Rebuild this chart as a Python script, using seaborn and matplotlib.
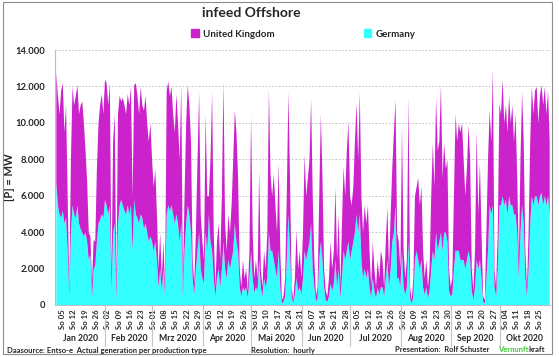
import numpy as np
import pandas as pd
import matplotlib
matplotlib.use("Agg")
import matplotlib.pyplot as plt
import seaborn as sns
from matplotlib.patches import Patch, Rectangle
from matplotlib.ticker import FuncFormatter

# daily offshore infeed in GW, 1 Jan - 31 Oct 2020
de_gw = [
    # Jan
    6.7, 5.5, 5.0, 4.8, 5.2, 4.5, 4.8, 3.0, 0.5, 4.0, 5.5, 5.0, 4.8, 5.5, 4.5, 4.2,
    4.0, 3.8, 4.0, 3.5, 2.5, 2.8, 0.4, 2.0, 2.2, 3.5, 4.5, 4.7, 5.0, 4.8, 5.8,
    # Feb
    5.5, 5.0, 5.5, 0.8, 4.0, 4.5, 0.3, 4.5, 5.5, 5.8, 5.5, 5.2, 5.0, 5.5, 5.0,
    5.5, 3.0, 5.8, 5.0, 4.8, 4.5, 5.0, 4.8, 4.2, 4.5, 4.0, 3.5, 3.8, 3.5,
    # Mar
    3.0, 3.5, 2.5, 1.0, 2.0, 0.8, 2.0, 0.5, 5.0, 5.5, 5.2, 5.5, 5.0, 4.5, 5.0, 4.5,
    3.5, 4.5, 0.5, 3.0, 4.5, 5.5, 5.0, 4.0, 1.5, 0.6, 2.0, 3.0, 4.0, 2.0, 1.5,
    # Apr
    1.2, 4.0, 3.0, 5.0, 3.5, 3.0, 1.5, 0.5, 1.5, 2.0, 1.0, 2.0, 3.5, 2.0, 1.5,
    2.5, 2.0, 2.5, 3.0, 4.5, 3.5, 3.0, 1.0, 0.5, 1.0, 0.8, 1.0, 0.4, 1.5, 3.0,
    # May
    1.5, 0.7, 1.0, 0.8, 2.5, 1.0, 0.5, 1.5, 1.0, 1.5, 4.0, 3.0, 3.0, 2.5, 2.0, 1.5,
    3.0, 1.0, 0.1, 0.2, 0.5, 2.5, 5.0, 3.0, 0.5, 0.1, 0.6, 1.5, 0.8, 1.0, 0.6,
    # Jun
    1.5, 3.0, 2.5, 3.0, 3.5, 4.5, 2.0, 1.0, 0.2, 0.4, 2.5, 3.5, 2.5, 1.0, 0.3,
    0.2, 0.5, 1.2, 0.8, 1.2, 2.5, 1.0, 2.0, 0.4, 1.5, 3.0, 2.5, 3.0, 3.5, 2.5,
    # Jul
    3.0, 3.5, 4.0, 5.0, 4.0, 5.0, 2.5, 1.5, 2.0, 1.5, 2.0, 1.0, 0.4, 1.5, 0.8, 0.4,
    1.0, 0.6, 1.0, 1.0, 0.5, 1.5, 2.5, 1.0, 2.0, 3.5, 4.0, 5.5, 1.5, 1.5, 1.0,
    # Aug
    3.0, 1.0, 0.6, 1.0, 3.5, 0.4, 0.1, 0.5, 2.5, 3.0, 2.5, 2.0, 2.5, 1.0, 0.6, 1.0,
    0.4, 0.8, 2.0, 3.0, 2.5, 4.0, 3.0, 3.5, 4.0, 3.0, 4.0, 4.0, 3.5, 0.8, 0.5,
    # Sep
    0.6, 2.0, 3.0, 3.0, 3.0, 2.5, 2.5, 2.5, 2.0, 2.5, 3.0, 2.5, 0.8, 0.3, 1.0,
    2.5, 2.0, 2.5, 1.5, 0.2, 0.1, 1.5, 3.0, 5.5, 5.0, 5.5, 1.0, 0.5, 2.0, 5.5,
    # Oct
    5.5, 6.0, 5.5, 5.8, 5.0, 6.0, 5.5, 5.5, 5.0, 5.0, 4.0, 1.5, 4.0, 5.5, 4.5, 1.5,
    0.5, 2.0, 4.5, 6.0, 5.5, 6.0, 6.0, 5.5, 6.0, 6.2, 5.5, 6.0, 5.5, 6.0, 5.0,
]

uk_gw = [
    # Jan
    6.1, 6.0, 5.5, 7.0, 7.0, 5.0, 6.2, 3.0, 0.4, 4.0, 6.5, 6.0, 6.7, 6.6, 6.0, 6.8,
    7.2, 6.2, 4.5, 3.3, 1.5, 1.0, 0.8, 1.6, 1.3, 4.0, 5.5, 6.3, 6.6, 5.7, 6.6,
    # Feb
    6.7, 6.0, 6.7, 0.7, 5.0, 6.0, 0.7, 6.0, 6.0, 5.4, 5.9, 5.8, 5.5, 6.1, 6.0,
    6.5, 3.0, 6.3, 7.2, 6.7, 6.0, 7.0, 6.2, 6.5, 7.0, 6.0, 5.5, 6.2, 4.5,
    # Mar
    3.5, 4.0, 2.5, 1.0, 2.0, 0.7, 1.5, 0.5, 6.8, 6.8, 6.3, 6.5, 5.5, 5.0, 6.6, 5.5,
    4.5, 7.6, 0.5, 3.0, 5.5, 6.6, 6.0, 5.0, 1.0, 0.6, 2.0, 5.0, 7.7, 3.0, 2.0,
    # Apr
    1.3, 6.5, 3.0, 1.0, 4.5, 8.7, 2.5, 0.5, 2.0, 2.5, 1.5, 4.0, 8.8, 2.5, 1.5,
    2.5, 2.0, 3.0, 5.0, 6.2, 6.0, 4.0, 1.0, 0.5, 1.5, 0.7, 1.0, 0.4, 1.5, 7.4,
    # May
    2.5, 0.8, 1.5, 0.7, 4.9, 1.0, 0.5, 1.5, 1.0, 2.5, 7.9, 4.2, 3.0, 4.7, 3.5, 2.5,
    4.8, 2.0, 0.2, 0.3, 1.0, 3.5, 6.7, 4.0, 0.5, 0.2, 0.9, 2.6, 1.2, 2.0, 0.9,
    # Jun
    2.5, 5.3, 3.5, 4.0, 4.5, 6.8, 4.0, 1.5, 0.3, 0.6, 3.5, 7.0, 4.5, 1.0, 0.5,
    0.3, 1.0, 2.3, 1.2, 1.8, 4.0, 1.5, 3.0, 0.6, 3.0, 4.6, 3.5, 5.5, 6.6, 3.5,
    # Jul
    2.5, 3.0, 5.0, 6.1, 4.0, 6.7, 3.5, 2.5, 3.5, 3.0, 3.5, 2.0, 0.6, 2.0, 1.2, 0.6,
    1.5, 0.9, 2.0, 1.5, 0.5, 2.0, 2.9, 1.0, 3.0, 4.0, 5.5, 5.8, 2.5, 2.0, 1.0,
    # Aug
    6.8, 2.0, 0.9, 1.5, 8.0, 0.6, 0.2, 1.0, 3.5, 3.5, 4.5, 3.5, 4.0, 2.0, 0.9, 1.5,
    0.6, 1.2, 4.0, 5.9, 4.0, 7.4, 5.5, 5.5, 8.1, 4.0, 4.9, 3.5, 4.5, 1.2, 0.5,
    # Sep
    0.9, 4.0, 7.5, 6.0, 7.0, 7.0, 7.5, 5.5, 4.0, 5.0, 6.9, 5.5, 1.2, 0.5, 2.0,
    7.1, 3.0, 5.3, 2.5, 0.3, 0.2, 2.5, 5.0, 5.2, 4.0, 7.5, 1.0, 0.5, 2.0, 5.6,
    # Oct
    5.0, 6.4, 4.5, 5.2, 4.5, 5.5, 4.5, 5.5, 4.0, 5.5, 3.0, 1.0, 4.0, 6.2, 4.5, 1.5,
    0.5, 2.0, 4.5, 6.0, 5.0, 5.8, 6.0, 4.5, 5.5, 5.9, 5.5, 6.0, 5.0, 5.8, 4.0,
]

month_names = ["Jan", "Feb", "Mrz", "Apr", "Mai", "Jun", "Jul", "Aug", "Sep", "Okt"]

dates = pd.date_range("2020-01-01", periods=len(de_gw), freq="D")
df = pd.DataFrame({
    "date": dates,
    "Germany": np.array(de_gw) * 1000,
    "United Kingdom": np.array(uk_gw) * 1000,
})
df["x"] = np.arange(len(df)) + 0.5

UK_COL = "#CC22CC"
DE_COL = "#33FFFF"

sns.set_theme(style="white")
plt.rcParams["font.family"] = ["Lato", "DejaVu Sans"]

fig = plt.figure(figsize=(5.59, 3.57), dpi=100)
ax = fig.add_axes([55 / 559, 52 / 357, 495 / 559, 255 / 357])

ax.stackplot(df["x"], df["Germany"], df["United Kingdom"],
             colors=[DE_COL, UK_COL], linewidth=0)

ax.set_xlim(0, len(df))
ax.set_ylim(0, 14000)
ax.set_yticks(np.arange(0, 14001, 2000))
ax.yaxis.set_major_formatter(FuncFormatter(lambda v, _: f"{int(v):,}".replace(",", ".")))
ax.yaxis.grid(True, linestyle=(0, (2, 2)), color="#BBBBBB", linewidth=0.6)
ax.set_axisbelow(True)
for s in ["top", "right"]:
    ax.spines[s].set_visible(False)
for s in ["left", "bottom"]:
    ax.spines[s].set_color("#BFBFBF")
    ax.spines[s].set_linewidth(0.8)
ax.tick_params(axis="y", length=0, pad=7, labelsize=6.8)
for t in ax.get_yticklabels():
    t.set_fontweight("bold")

# sunday ticks
sundays = df[df["date"].dt.dayofweek == 6]
ax.set_xticks(sundays["x"])
ax.set_xticklabels([f"So {d.day:02d}" for d in sundays["date"]], rotation=90,
                   fontsize=5.6, fontweight="bold")
ax.tick_params(axis="x", length=0, pad=3)

# month separators and labels
starts = list(np.where(df["date"].dt.is_month_start)[0]) + [len(df)]
for i, name in enumerate(month_names):
    a, b = starts[i], starts[i + 1]
    if i > 0:
        ax.plot([a, a], [0, -0.16], transform=ax.get_xaxis_transform(),
                color="#C8C8C8", lw=0.9, clip_on=False)
    ax.text((a + b) / 2, -0.13, f"{name} 2020", transform=ax.get_xaxis_transform(),
            ha="center", va="center", fontsize=6.2, fontweight="bold")

ax.set_ylabel("[P] = MW", fontsize=8, fontweight="bold")
ax.yaxis.set_label_coords(-0.081, 0.5)

fig.text(251 / 559, 1 - 13 / 357, "infeed Offshore", ha="center", va="center",
         fontsize=10, fontweight="bold")

handles = [Patch(color=UK_COL, label="United Kingdom"), Patch(color=DE_COL, label="Germany")]
fig.legend(handles=handles, loc="center", bbox_to_anchor=(303 / 559, 1 - 34 / 357),
           ncol=2, frameon=False, prop={"size": 7, "weight": "bold"},
           handlelength=0.8, handleheight=0.8, handletextpad=0.4, columnspacing=9.2)

# footer
fy = 1 - 350 / 357
fs = 5.5
fig.text(7 / 559, fy, "Daasource: Entso-e  Actual generation per production type",
         fontsize=fs, fontweight="bold", va="center")
fig.text(251 / 559, fy, "Resolution:  hourly", fontsize=fs, fontweight="bold", va="center")
fig.text(395 / 559, fy, "Presentation:  Rolf Schuster", fontsize=fs, fontweight="bold", va="center")
vt = fig.text(498 / 559, fy, "Vernunft", fontsize=fs, fontweight="bold", va="center",
              color="#3CC83C")
fig.canvas.draw()
bb = vt.get_window_extent().transformed(fig.transFigure.inverted())
fig.text(bb.x1, fy, "kraft", fontsize=fs, fontweight="bold", va="center")

# outer chart border
fig.patches.append(Rectangle((3 / 559, 3 / 357), 549 / 559, 352 / 357,
                             transform=fig.transFigure, fill=False,
                             edgecolor="#8C8C8C", linewidth=0.8))

fig.savefig("out.png", dpi=100)
